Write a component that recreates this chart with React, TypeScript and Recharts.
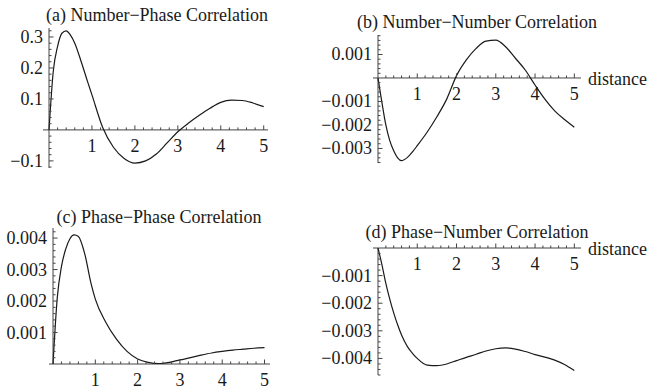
import { LineChart, Line, XAxis, YAxis, ReferenceLine, ReferenceDot } from 'recharts';

const distance = [0, 0.1, 0.2, 0.3, 0.4, 0.5, 0.6, 0.75, 0.9, 1, 1.25, 1.5, 1.75, 2, 2.25, 2.5, 2.75, 3, 3.25, 3.5, 3.75, 4, 4.25, 4.5, 4.75, 5];

const numberPhase = [0, 0.19, 0.27, 0.312, 0.32, 0.306, 0.28, 0.22, 0.155, 0.113, 0.008, -0.056, -0.092, -0.107, -0.1, -0.078, -0.042, -0.006, 0.022, 0.047, 0.07, 0.089, 0.096, 0.095, 0.087, 0.075];
const numberNumber = [0, -0.00104, -0.002, -0.00267, -0.0031, -0.0034, -0.00352, -0.00338, -0.0031, -0.00288, -0.00231, -0.00165, -0.0009, 0.0001, 0.00077, 0.00126, 0.00157, 0.00161, 0.00133, 0.00084, 0.00034, -0.0003, -0.0009, -0.0014, -0.00177, -0.0021];
const phasePhase = [0, 0.0021, 0.0031, 0.00365, 0.00398, 0.0041, 0.00405, 0.0035, 0.00255, 0.00206, 0.00132, 0.00079, 0.0004, 0.00016, 0.00005, 0.00001, 0.00005, 0.00013, 0.0002, 0.00028, 0.00035, 0.0004, 0.00044, 0.00047, 0.0005, 0.00052];
const phaseNumber = [0, -0.0006, -0.00128, -0.00185, -0.00235, -0.00278, -0.00315, -0.00357, -0.00385, -0.004, -0.00424, -0.00426, -0.0042, -0.00408, -0.00396, -0.00385, -0.00373, -0.00365, -0.00362, -0.00366, -0.00375, -0.00386, -0.00395, -0.00406, -0.00422, -0.00444];

const xMajor = [1, 2, 3, 4, 5];
const yMajorA = [-0.1, 0.1, 0.2, 0.3];
const yMajorB = [-0.003, -0.002, -0.001, 0.001];
const yMajorC = [0.001, 0.002, 0.003, 0.004];
const yMajorD = [-0.004, -0.003, -0.002, -0.001];

const FONT = '"Liberation Serif", "Times New Roman", serif';
const INK = '#1a1a1a';
const AXIS = '#444';

const fmt = (v: number, digits: number) => v.toFixed(digits).replace('-', '\u2212');

function steps(from: number, to: number, step: number) {
  const out: number[] = [];
  const n = Math.round((to - from) / step);
  for (let i = 0; i <= n; i++) out.push(+(from + i * step).toFixed(6));
  return out;
}

function Panel({
  left, top, width, height, margin, values, xDomain, yDomain, yMajor, yMinor, digits, showDistance,
}: {
  left: number; top: number; width: number; height: number;
  margin: { top: number; right: number; bottom: number; left: number };
  values: number[]; xDomain: [number, number]; yDomain: [number, number];
  yMajor: number[]; yMinor: number; digits: number; showDistance?: boolean;
}) {
  const data = distance.map((d, i) => ({ d, v: values[i] }));
  const xMinor = steps(0.2, 5, 0.2).filter((t) => !xMajor.some((m) => Math.abs(m - t) < 1e-6));
  const yAll = steps(Math.ceil(yDomain[0] / yMinor) * yMinor, Math.floor(yDomain[1] / yMinor) * yMinor, yMinor)
    .filter((t) => Math.abs(t) > yMinor / 2 && !yMajor.some((m) => Math.abs(m - t) < yMinor / 2));

  return (
    <div style={{ position: 'absolute', left, top }}>
      <LineChart width={width} height={height} data={data} margin={margin}>
        <XAxis type="number" dataKey="d" domain={xDomain} allowDataOverflow hide />
        <YAxis type="number" domain={yDomain} allowDataOverflow hide />
        <ReferenceLine y={0} stroke={AXIS} ifOverflow="visible" />
        <ReferenceLine x={0} stroke={AXIS} ifOverflow="visible" />
        {xMinor.map((t) => (
          <ReferenceDot key={`xm${t}`} x={t} y={0} ifOverflow="visible"
            shape={(p: any) => <line x1={p.cx} x2={p.cx} y1={p.cy} y2={p.cy - 2.5} stroke={AXIS} />} />
        ))}
        {xMajor.map((t) => (
          <ReferenceDot key={`x${t}`} x={t} y={0} ifOverflow="visible"
            shape={(p: any) => (
              <g>
                <line x1={p.cx} x2={p.cx} y1={p.cy} y2={p.cy - 4.5} stroke={AXIS} />
                <text x={p.cx} y={p.cy + 16} textAnchor="middle" dominantBaseline="central"
                  fontFamily={FONT} fontSize={18} fill={INK}>{t}</text>
              </g>
            )} />
        ))}
        {yAll.map((t) => (
          <ReferenceDot key={`ym${t}`} x={0} y={t} ifOverflow="visible"
            shape={(p: any) => <line x1={p.cx} x2={p.cx + 2.5} y1={p.cy} y2={p.cy} stroke={AXIS} />} />
        ))}
        {yMajor.map((t) => (
          <ReferenceDot key={`y${t}`} x={0} y={t} ifOverflow="visible"
            shape={(p: any) => (
              <g>
                <line x1={p.cx} x2={p.cx + 4.5} y1={p.cy} y2={p.cy} stroke={AXIS} />
                <text x={p.cx - 6} y={p.cy} textAnchor="end" dominantBaseline="central"
                  fontFamily={FONT} fontSize={18} fill={INK}>{fmt(t, digits)}</text>
              </g>
            )} />
        ))}
        {showDistance && (
          <ReferenceDot x={xDomain[1]} y={0} ifOverflow="visible"
            shape={(p: any) => (
              <text x={p.cx + 7} y={p.cy + 1} dominantBaseline="central"
                fontFamily={FONT} fontSize={18} fill={INK}>distance</text>
            )} />
        )}
        <Line type="monotone" dataKey="v" stroke={INK} strokeWidth={1.2} dot={false} isAnimationActive={false} />
      </LineChart>
    </div>
  );
}

function Title({ x, y, text }: { x: number; y: number; text: string }) {
  return (
    <div style={{
      position: 'absolute', left: x - 160, top: y - 11, width: 320, lineHeight: '22px',
      textAlign: 'center', fontFamily: FONT, fontSize: 18, color: INK, whiteSpace: 'nowrap',
    }}>{text}</div>
  );
}

export default function App() {
  return (
    <div style={{ position: 'absolute', left: 0, top: 0, width: 649, height: 391, background: '#fff', overflow: 'hidden' }}>
      <Panel left={0} top={0} width={325} height={195}
        margin={{ top: 28, right: 57, bottom: 27, left: 43 }}
        values={numberPhase} xDomain={[-0.14, 5.1]} yDomain={[-0.123, 0.329]}
        yMajor={yMajorA} yMinor={0.02} digits={1} />
      <Panel left={300} top={0} width={349} height={195}
        margin={{ top: 35, right: 68, bottom: 32, left: 73 }}
        values={numberNumber} xDomain={[-0.127, 5.17]} yDomain={[-0.00362, 0.00183]}
        yMajor={yMajorB} yMinor={0.0002} digits={3} showDistance />
      <Panel left={0} top={195} width={300} height={196}
        margin={{ top: 33, right: 30, bottom: 27, left: 49 }}
        values={phasePhase} xDomain={[-0.095, 5.13]} yDomain={[0, 0.00432]}
        yMajor={yMajorC} yMinor={0.0002} digits={3} />
      <Panel left={300} top={195} width={349} height={196}
        margin={{ top: 53, right: 68, bottom: 16, left: 73 }}
        values={phaseNumber} xDomain={[-0.127, 5.17]} yDomain={[-0.0046, 0]}
        yMajor={yMajorD} yMinor={0.0002} digits={3} showDistance />
      <Title x={157} y={15} text={'(a) Number\u2212Phase Correlation'} />
      <Title x={477} y={22} text={'(b) Number\u2212Number Correlation'} />
      <Title x={159} y={217} text={'(c) Phase\u2212Phase Correlation'} />
      <Title x={477} y={232} text={'(d) Phase\u2212Number Correlation'} />
    </div>
  );
}
